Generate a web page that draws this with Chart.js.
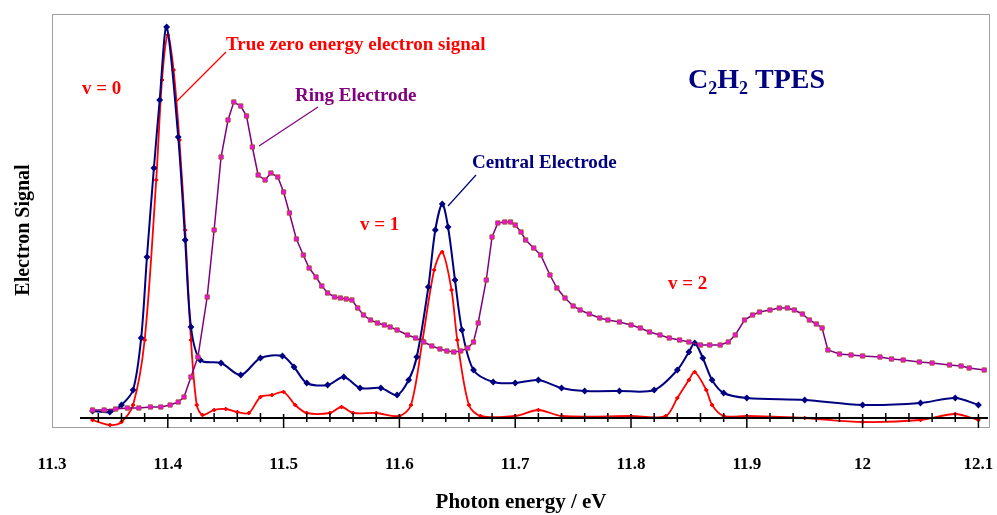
<!DOCTYPE html>
<html>
<head>
<meta charset="utf-8">
<script src="https://cdn.jsdelivr.net/npm/chart.js@4.4.1/dist/chart.umd.min.js"></script>
<style>
  html, body { margin: 0; padding: 0; background: #fff; }
  #wrap { width: 997px; height: 515px; }
</style>
</head>
<body>
<div id="wrap"><canvas id="tpes"></canvas></div>
<script>
// photon energy (eV) and signal (arbitrary units)
var centralE = [11.335, 11.35, 11.36, 11.37, 11.377, 11.382, 11.388, 11.393, 11.399, 11.409, 11.415, 11.42, 11.428, 11.446, 11.463, 11.48, 11.499, 11.509, 11.52, 11.538, 11.552, 11.566, 11.584, 11.598, 11.608, 11.615, 11.625, 11.631, 11.637, 11.642, 11.648, 11.654, 11.664, 11.681, 11.70, 11.72, 11.74, 11.76, 11.79, 11.82, 11.84, 11.85, 11.855, 11.862, 11.87, 11.88, 11.90, 11.95, 12.0, 12.05, 12.08, 12.1];
var centralY = [7, 6, 13, 28, 80, 161, 250, 318, 391, 281, 178, 91, 58, 55, 43, 60, 62, 51, 35, 33, 41, 30, 30, 23, 38, 61, 131, 188, 214, 191, 138, 88, 48, 36, 35, 38, 30, 27, 27, 28, 48, 66, 75, 60, 38, 25, 20, 18, 13, 15, 20, 13];

var trueE = [11.335, 11.35, 11.36, 11.37, 11.38, 11.39, 11.395, 11.40, 11.405, 11.41, 11.415, 11.42, 11.425, 11.43, 11.44, 11.45, 11.46, 11.47, 11.48, 11.49, 11.50, 11.51, 11.52, 11.54, 11.55, 11.56, 11.58, 11.60, 11.61, 11.62, 11.63, 11.637, 11.645, 11.65, 11.66, 11.67, 11.70, 11.72, 11.74, 11.80, 11.83, 11.84, 11.85, 11.855, 11.865, 11.87, 11.88, 11.90, 11.95, 12.0, 12.05, 12.08, 12.1];
var trueY = [-2, -7, -4, 13, 78, 238, 338, 383, 348, 278, 188, 78, 13, 3, 8, 9, 6, 5, 21, 23, 26, 13, 5, 5, 11, 5, 5, 2, 13, 78, 148, 166, 128, 78, 13, 2, 2, 8, 2, 2, 2, 20, 38, 46, 28, 13, 2, 2, 0, -4, -2, 4, -2];

var ringE = [11.335, 11.345, 11.355, 11.365, 11.375, 11.385, 11.394, 11.402, 11.409, 11.414, 11.42, 11.426, 11.434, 11.44, 11.446, 11.452, 11.457, 11.463, 11.468, 11.473, 11.478, 11.484, 11.489, 11.495, 11.5, 11.505, 11.511, 11.517, 11.522, 11.528, 11.533, 11.538, 11.544, 11.549, 11.554, 11.559, 11.564, 11.569, 11.575, 11.581, 11.587, 11.592, 11.598, 11.607, 11.614, 11.621, 11.628, 11.635, 11.641, 11.647, 11.653, 11.659, 11.664, 11.668, 11.675, 11.68, 11.685, 11.691, 11.696, 11.70, 11.705, 11.709, 11.716, 11.722, 11.73, 11.736, 11.743, 11.75, 11.756, 11.764, 11.773, 11.78, 11.79, 11.80, 11.808, 11.816, 11.825, 11.833, 11.842, 11.85, 11.86, 11.868, 11.877, 11.884, 11.89, 11.898, 11.905, 11.911, 11.92, 11.928, 11.935, 11.941, 11.948, 11.954, 11.96, 11.965, 11.97, 11.98, 11.99, 12.0, 12.015, 12.025, 12.035, 12.049, 12.06, 12.075, 12.085, 12.092, 12.105];
var ringY = [8, 8, 9, 10, 10, 11, 11, 13, 16, 21, 41, 61, 121, 188, 261, 298, 316, 312, 302, 271, 243, 238, 245, 241, 226, 205, 179, 163, 150, 141, 132, 125, 121, 120, 119, 118, 110, 103, 98, 95, 93, 91, 88, 83, 80, 76, 72, 69, 67, 66, 67, 70, 76, 95, 138, 181, 195, 196, 196, 193, 186, 178, 170, 163, 143, 130, 120, 112, 108, 104, 100, 98, 96, 93, 90, 86, 83, 80, 78, 76, 73, 73, 73, 76, 83, 98, 103, 106, 108, 110, 110, 108, 104, 98, 94, 90, 68, 64, 63, 62, 61, 59, 58, 56, 55, 53, 52, 50, 48];

var xTicks = [11.3, 11.4, 11.5, 11.6, 11.7, 11.8, 11.9, 12.0, 12.1];

function toPoints(xs, ys) {
  return xs.map(function (x, i) { return { x: x, y: ys[i] }; });
}

// text labels, leader lines, axis line with ticks, box, y title
var decorPlugin = {
  id: 'decor',
  afterDatasetsDraw: function (chart) {
    var c = chart.ctx, a = chart.chartArea;
    var xs = chart.scales.x, ys = chart.scales.y;
    var px = function (v) { return xs.getPixelForValue(v); };
    var py = function (v) { return ys.getPixelForValue(v); };
    c.save();
    // plot box
    c.strokeStyle = '#a0a0a0';
    c.lineWidth = 1;
    c.strokeRect(a.left + 0.5, a.top + 0.5, a.right - a.left - 1, a.bottom - a.top - 1);
    // zero line with ticks
    var y0 = py(0);
    c.strokeStyle = '#000';
    c.lineWidth = 2;
    c.beginPath();
    c.moveTo(a.left + 28, y0); c.lineTo(a.right - 2, y0);
    c.stroke();
    c.lineWidth = 1.5;
    for (var k = 0; k <= 40; k++) {
      var e = 11.3 + k * 0.02;
      if (e > 12.105) break;
      var tx = px(e);
      if (tx < a.left + 28) continue;
      c.beginPath();
      if (k % 5 === 0) { c.moveTo(tx, y0 - 4); c.lineTo(tx, y0 + 10); }
      else { c.moveTo(tx, y0 - 5); c.lineTo(tx, y0 + 4); }
      c.stroke();
    }
    // annotations
    c.font = 'bold 19px "Liberation Serif"';
    c.textBaseline = 'middle';
    c.fillStyle = '#ff0000'; c.strokeStyle = '#ff0000'; c.lineWidth = 1.2;
    c.fillText('True zero energy electron signal', 226, 45);
    c.beginPath(); c.moveTo(226, 52); c.lineTo(176, 102); c.stroke();
    c.fillText('v = 0', 82, 89);
    c.fillText('v = 1', 360, 225);
    c.fillText('v = 2', 668, 284);
    c.fillStyle = '#800080'; c.strokeStyle = '#800080';
    c.fillText('Ring Electrode', 295, 96);
    c.beginPath(); c.moveTo(318, 107); c.lineTo(259, 146); c.stroke();
    c.fillStyle = '#000080'; c.strokeStyle = '#000080';
    c.fillText('Central Electrode', 472, 163);
    c.beginPath(); c.moveTo(476, 175); c.lineTo(448, 206); c.stroke();
    // title C2H2 TPES
    c.font = 'bold 28px "Liberation Serif"';
    c.textBaseline = 'alphabetic';
    var tx0 = 688;
    c.fillText('C', tx0, 88); tx0 += c.measureText('C').width;
    c.font = 'bold 18px "Liberation Serif"';
    c.fillText('2', tx0, 94); tx0 += c.measureText('2').width;
    c.font = 'bold 28px "Liberation Serif"';
    c.fillText('H', tx0, 88); tx0 += c.measureText('H').width;
    c.font = 'bold 18px "Liberation Serif"';
    c.fillText('2', tx0, 94); tx0 += c.measureText('2').width;
    c.font = 'bold 28px "Liberation Serif"';
    c.fillText(' TPES', tx0, 88);
    // y axis title
    c.fillStyle = '#000';
    c.font = 'bold 20px "Liberation Serif"';
    c.textAlign = 'center';
    c.textBaseline = 'middle';
    c.translate(24, 230);
    c.rotate(-Math.PI / 2);
    c.fillText('Electron Signal', 0, 0);
    c.restore();
  }
};

new Chart(document.getElementById('tpes'), {
  type: 'line',
  data: {
    datasets: [
      {
        label: 'Ring Electrode',
        data: toPoints(ringE, ringY),
        borderColor: '#800080',
        borderWidth: 1.5,
        pointStyle: 'rect',
        pointRadius: 3,
        pointBackgroundColor: '#ff00ff',
        pointBorderColor: '#a0522d',
        pointBorderWidth: 1,
        tension: 0
      },
      {
        label: 'Central Electrode',
        data: toPoints(centralE, centralY),
        borderColor: '#000080',
        borderWidth: 2,
        pointStyle: 'rectRot',
        pointRadius: 2,
        pointBackgroundColor: '#000080',
        pointBorderColor: '#000080',
        tension: 0.3
      },
      {
        label: 'True zero energy electron signal',
        data: toPoints(trueE, trueY),
        borderColor: '#ff0000',
        borderWidth: 1.8,
        pointStyle: 'cross',
        pointRadius: 2,
        pointBorderColor: '#ff0000',
        tension: 0.3
      }
    ]
  },
  options: {
    responsive: true,
    maintainAspectRatio: false,
    animation: false,
    layout: { padding: { left: 52, right: 7, top: 14, bottom: 0 } },
    plugins: {
      legend: { display: false },
      tooltip: { enabled: false }
    },
    scales: {
      x: {
        type: 'linear',
        min: 11.3,
        max: 12.11,
        afterBuildTicks: function (axis) {
          axis.ticks = xTicks.map(function (v) { return { value: v }; });
        },
        afterFit: function (axis) {
          axis.height = 87;
          axis.paddingLeft = 0;
          axis.paddingRight = 0;
        },
        ticks: {
          color: '#000',
          padding: 26,
          maxRotation: 0,
          font: { family: 'Liberation Serif', size: 17, weight: 'bold' },
          callback: function (v) { return Math.abs(v - 12) < 1e-6 ? '12' : (Math.round(v * 10) / 10).toString(); }
        },
        grid: { display: false, drawTicks: false },
        border: { display: false },
        title: {
          display: true,
          text: 'Photon energy / eV',
          color: '#000',
          padding: { top: 14, bottom: 0 },
          font: { family: 'Liberation Serif', size: 21, weight: 'bold' }
        }
      },
      y: {
        display: false,
        min: -10,
        max: 404
      }
    }
  },
  plugins: [decorPlugin]
});
</script>
</body>
</html>
